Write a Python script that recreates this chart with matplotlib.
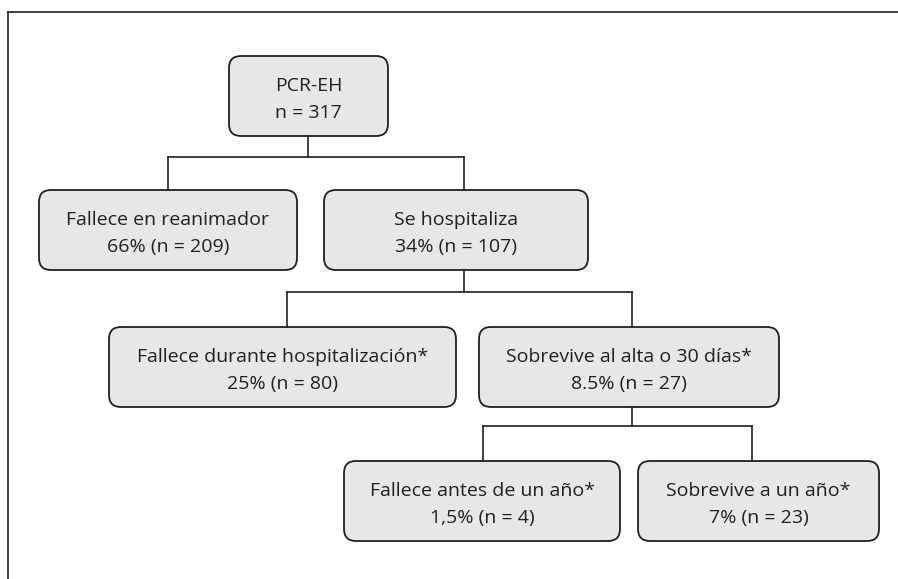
import matplotlib
matplotlib.use("Agg")
import matplotlib.pyplot as plt
from matplotlib.patches import FancyBboxPatch

plt.rcParams['font.family'] = ['Open Sans', 'DejaVu Sans']

# datos del diagrama
etiquetas = ["PCR-EH", "Fallece en reanimador", "Se hospitaliza",
             "Fallece durante hospitalización*", "Sobrevive al alta o 30 días*",
             "Fallece antes de un año*", "Sobrevive a un año*"]
porcentajes = [None, "66%", "34%", "25%", "8.5%", "1,5%", "7%"]
n_casos = [317, 209, 107, 80, 27, 4, 23]
hijos = {0: [1, 2], 2: [3, 4], 4: [5, 6]}

# posicion de las cajas en pixeles (x0, x1, y0, y1)
cajas = [(229, 388, 56, 136),
         (39, 297, 190, 270), (324, 588, 190, 270),
         (109, 456, 327, 407), (479, 779, 327, 407),
         (344, 620, 461, 541), (638, 879, 461, 541)]
# x de los conectores y altura de la linea horizontal
x_conector = [308, 168, 464, 287, 632, 483, 752]
y_horizontal = {0: 157, 2: 292, 4: 426}

borde = '#231f20'
relleno = '#e6e7e8'

fig = plt.figure(figsize=(8.98, 5.79), dpi=100)
ax = fig.add_axes([0, 0, 1, 1])
ax.set_xlim(0, 898)
ax.set_ylim(579, 0)
ax.axis('off')

# marco (solo arriba e izquierda)
ax.plot([8, 898], [12, 12], color=borde, lw=1.2)
ax.plot([8, 8], [12, 579], color=borde, lw=1.2)

for i, (x0, x1, y0, y1) in enumerate(cajas):
    r = 12
    caja = FancyBboxPatch((x0 + r, y0 + r), (x1 - x0) - 2 * r, (y1 - y0) - 2 * r,
                          boxstyle="round,pad=%d" % r, fc=relleno, ec=borde, lw=1.3)
    ax.add_patch(caja)
    if porcentajes[i] is None:
        segunda = "n = %d" % n_casos[i]
    else:
        segunda = "%s (n = %d)" % (porcentajes[i], n_casos[i])
    cx = (x0 + x1) / 2
    cy = (y0 + y1) / 2
    ax.text(cx, cy - 5, etiquetas[i], ha='center', va='baseline', fontsize=14, color=borde)
    ax.text(cx, cy + 22, segunda, ha='center', va='baseline', fontsize=14, color=borde)

for p, hs in hijos.items():
    yh = y_horizontal[p]
    xp = x_conector[p]
    ax.plot([xp, xp], [cajas[p][3], yh], color=borde, lw=1.2)
    xs = [x_conector[h] for h in hs]
    ax.plot([min(xs), max(xs)], [yh, yh], color=borde, lw=1.2)
    for h in hs:
        ax.plot([x_conector[h], x_conector[h]], [yh, cajas[h][2]], color=borde, lw=1.2)

fig.savefig("out.png", dpi=100)
